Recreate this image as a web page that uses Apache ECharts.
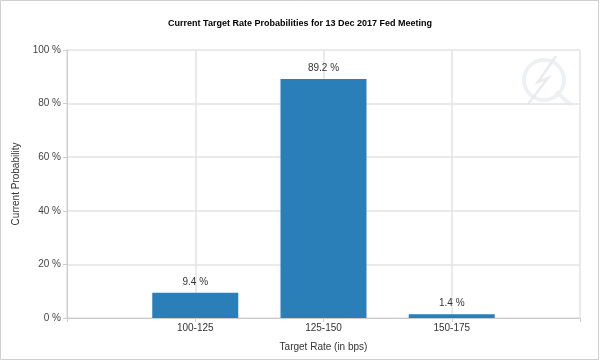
<!DOCTYPE html>
<html><head><meta charset="utf-8">
<script src="https://cdn.jsdelivr.net/npm/echarts@6/dist/echarts.min.js"></script>
<style>html,body{margin:0;padding:0;background:#fff}#c{width:600px;height:361px}</style>
</head><body><div id="c"></div>
<script>
const titleText = 'Current Target Rate Probabilities for 13 Dec 2017 Fed Meeting';
const categories = ['', '100-125', '125-150', '150-175', ''];
const probabilities = [null, 9.4, 89.2, 1.4, null];
const yTicks = [0, 20, 40, 60, 80, 100];
const xName = 'Target Rate (in bps)';
const yName = 'Current Probability';

const chart = echarts.init(document.getElementById('c'), null, {renderer: 'canvas'});
chart.setOption({
  animation: false,
  title: {
    text: titleText, left: 'center', top: 14,
    textStyle: {fontFamily: 'Liberation Sans, Arial', fontWeight: 'bold', fontSize: 9, color: '#000'}
  },
  graphic: [
    {type: 'rect', shape: {x: 0.5, y: 0.5, width: 598, height: 359}, style: {fill: 'none', stroke: '#cfcfcf', lineWidth: 1}, silent: true},
    {type: 'circle', shape: {cx: 544, cy: 80, r: 20}, style: {fill: 'none', stroke: '#eef1f4', lineWidth: 4}, silent: true, z: -1},
    {type: 'polyline', shape: {points: [[556, 56], [538, 82], [548, 78], [528, 104]]}, style: {fill: 'none', stroke: '#e9ebed', lineWidth: 2.5}, silent: true, z: -1},
    {type: 'line', shape: {x1: 556, y1: 92, x2: 571, y2: 105}, style: {stroke: '#eef1f4', lineWidth: 4}, silent: true, z: -1}
  ],
  grid: {left: 67, right: 20, top: 50, bottom: 43, containLabel: false},
  xAxis: {
    type: 'category', data: categories, boundaryGap: false,
    name: xName, nameLocation: 'middle', nameGap: 24,
    nameTextStyle: {fontFamily: 'Liberation Sans, Arial', fontSize: 10, color: '#333'},
    axisLine: {show: true, lineStyle: {color: '#cccccc', width: 1}},
    axisTick: {show: true, length: 4, lineStyle: {color: '#cccccc'}},
    axisLabel: {fontFamily: 'Liberation Sans, Arial', fontSize: 10, color: '#333', margin: 5, showMinLabel: false, showMaxLabel: false, interval: 0},
    splitLine: {show: true, lineStyle: {color: '#e3e3e3', width: 1.5}}
  },
  yAxis: {
    type: 'value', min: yTicks[0], max: yTicks[yTicks.length - 1], interval: yTicks[1] - yTicks[0],
    name: yName, nameLocation: 'middle', nameGap: 38,
    nameTextStyle: {fontFamily: 'Liberation Sans, Arial', fontSize: 10, color: '#333'},
    axisLine: {show: true, lineStyle: {color: '#cccccc', width: 1}},
    axisTick: {show: true, length: 4, lineStyle: {color: '#cccccc'}},
    axisLabel: {formatter: v => v + ' %', fontFamily: 'Liberation Sans, Arial', fontSize: 10, color: '#444', margin: 6},
    splitLine: {show: true, lineStyle: {color: '#e3e3e3', width: 1.5}}
  },
  series: [{
    type: 'bar', data: probabilities, barWidth: 86,
    itemStyle: {color: '#2a7fb8'},
    label: {show: true, position: 'top', distance: 6, formatter: p => p.value + ' %', fontFamily: 'Liberation Sans, Arial', fontSize: 10, color: '#333'}
  }]
});
</script></body></html>
